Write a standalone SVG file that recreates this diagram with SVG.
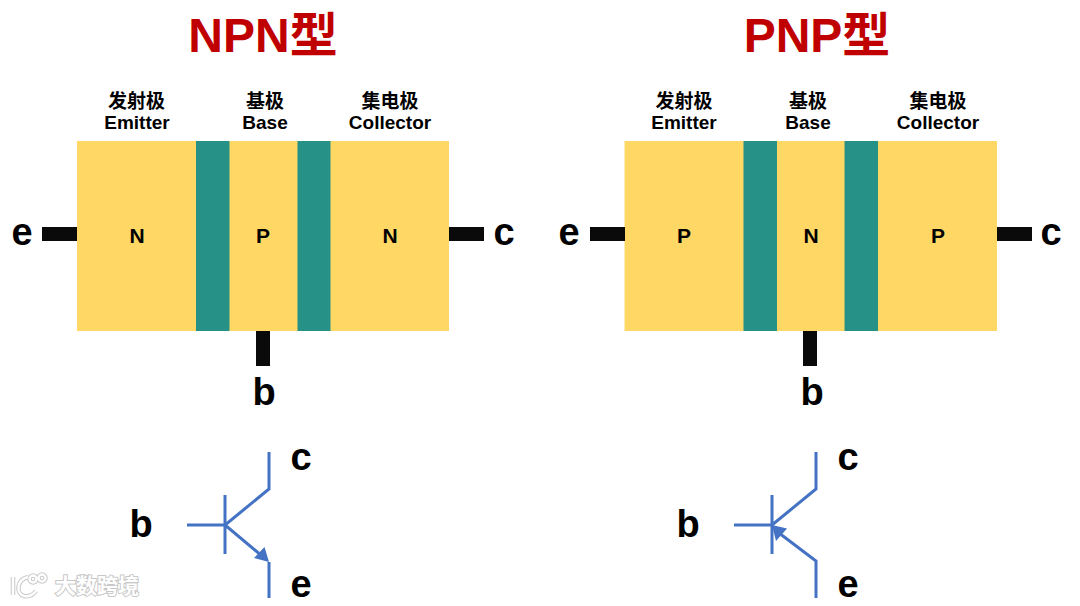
<svg xmlns="http://www.w3.org/2000/svg" width="1080" height="606" viewBox="0 0 1080 606">
<style>
text{font-family:"Liberation Sans","Noto Sans CJK SC",sans-serif;font-weight:700;fill:#000;text-anchor:middle}
.t{font-size:48px;fill:#c00000}
.h{font-size:19px}
.r{font-size:21px}
.l{font-size:38px}
.y{fill:#fed764}.g{fill:#269187}.k{fill:#0a0a0a}
.w{fill:none;stroke:#4472c4;stroke-width:3}
.a{fill:#4472c4}
.m{font-size:21px;fill:#fff;stroke:#c8c8c8;stroke-width:2px;paint-order:stroke}
.o{fill:none;stroke:#c8c8c8;stroke-width:4.500}
.p{fill:none;stroke:#fff;stroke-width:2.500}
</style>
<rect width="1080" height="606" fill="#fff"/>
<text class="t" x="263" y="52">NPN型</text>
<text class="t" x="817" y="52">PNP型</text>
<g id="npn-structure">
<rect class="y" x="77" y="141" width="372" height="190"/>
<rect class="g" x="196" y="141" width="33.500" height="190"/>
<rect class="g" x="297.500" y="141" width="33" height="190"/>
<text class="r" x="137" y="243">N</text><text class="r" x="263" y="243">P</text><text class="r" x="390" y="243">N</text>
</g>
<g id="npn-labels">
<text class="h" x="136.500" y="108">发射极</text><text class="h" x="137" y="129">Emitter</text>
<text class="h" x="265" y="108">基极</text><text class="h" x="265" y="129">Base</text>
<text class="h" x="390" y="108">集电极</text><text class="h" x="390" y="129">Collector</text>
</g>
<g id="pnp-structure">
<rect class="y" x="624.500" y="141" width="372.500" height="190"/>
<rect class="g" x="743.500" y="141" width="33.500" height="190"/>
<rect class="g" x="844.500" y="141" width="33.500" height="190"/>
<text class="r" x="684" y="243">P</text><text class="r" x="811" y="243">N</text><text class="r" x="938" y="243">P</text>
</g>
<g id="pnp-labels">
<text class="h" x="684" y="108">发射极</text><text class="h" x="684" y="129">Emitter</text>
<text class="h" x="808" y="108">基极</text><text class="h" x="808" y="129">Base</text>
<text class="h" x="938" y="108">集电极</text><text class="h" x="938" y="129">Collector</text>
</g>
<g id="connectors">
<rect class="k" x="42" y="227" width="35" height="14"/>
<rect class="k" x="449" y="227" width="35" height="14"/>
<rect class="k" x="256" y="331" width="14" height="35"/>
<rect class="k" x="590" y="227" width="35" height="14"/>
<rect class="k" x="997" y="227" width="35" height="14"/>
<rect class="k" x="803" y="331" width="14" height="35"/>
<path class="w" d="M187 525H225M225 495V554M269 452V489L225 525L262 556M269 562V598"/>
<path class="a" d="M269 562L254 558L264.500 547Z"/>
<path class="w" d="M734 525H772M772 495V554M816 452V489L772 525M779 533L816 561V598"/>
<path class="a" d="M772 525L787 528.500L776 541Z"/>
</g>
<g id="terminals">
<text class="l" x="22" y="245">e</text><text class="l" x="504" y="245">c</text><text class="l" x="264" y="405">b</text>
<text class="l" x="569" y="245">e</text><text class="l" x="1051" y="245">c</text><text class="l" x="812" y="405">b</text>
<text class="l" x="301" y="470">c</text><text class="l" x="141" y="537">b</text><text class="l" x="301" y="597">e</text>
<text class="l" x="848" y="470">c</text><text class="l" x="688" y="537">b</text><text class="l" x="848" y="597">e</text>
</g>
<g id="watermark">
<path class="o" d="M13 577V595M28 577C16 580 16 594 24 596C29 597 33 595 36 591"/>
<circle class="o" cx="33" cy="579" r="3.500"/><circle class="o" cx="42" cy="578" r="3.500"/>
<path class="p" d="M13 577V595M28 577C16 580 16 594 24 596C29 597 33 595 36 591"/>
<circle class="p" cx="33" cy="579" r="3.500"/><circle class="p" cx="42" cy="578" r="3.500"/>
<text class="m" x="97" y="593">大数跨境</text>
</g>
</svg>
